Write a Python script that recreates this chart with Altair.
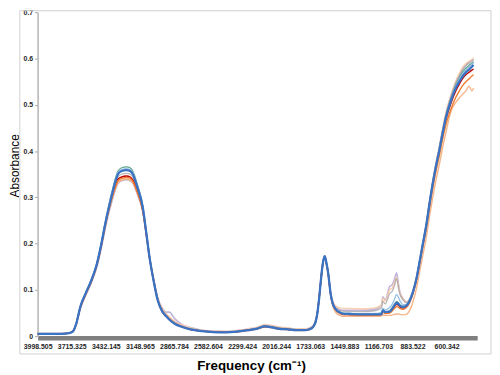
import altair as alt
import pandas as pd

# wavenumber grid (cm-1), descending
FREQ = [3998.5, 3900, 3800, 3750, 3720, 3700, 3680, 3643, 3600, 3550,
        3506, 3470, 3438, 3405, 3375, 3350, 3331, 3300, 3260, 3230,
        3208, 3170, 3124, 3100, 3069, 3035, 3000, 2962, 2930, 2905,
        2860, 2798, 2720, 2634, 2540, 2437, 2340, 2248, 2180, 2108,
        2050, 1990, 1919, 1850, 1780, 1740, 1710, 1690, 1675, 1660,
        1645, 1630, 1613, 1600, 1585, 1564, 1548, 1536, 1510, 1485,
        1468, 1400, 1300, 1200, 1164, 1140, 1131, 1110, 1074, 1050,
        1030, 1016, 1000, 990, 961, 934, 910, 879, 850, 825,
        800, 770, 740, 715, 690, 661, 635, 606, 565, 524,
        490, 469, 440, 414, 390, 376]

X_TICKS = [3998.505, 3715.325, 3432.145, 3148.965, 2865.784, 2582.604, 2299.424,
           2016.244, 1733.063, 1449.883, 1166.703, 883.522, 600.342]
Y_TICKS = [0, 0.1, 0.2, 0.3, 0.4, 0.5, 0.6, 0.7]

LAVENDER = [0.006, 0.006, 0.006, 0.007, 0.009, 0.013, 0.024, 0.061, 0.088, 0.117,
            0.150, 0.190, 0.231, 0.268, 0.297, 0.318, 0.330, 0.336, 0.338, 0.336,
            0.331, 0.307, 0.268, 0.228, 0.171, 0.123, 0.082, 0.060, 0.052, 0.052,
            0.038, 0.025, 0.018, 0.013, 0.011, 0.010, 0.012, 0.015, 0.018, 0.024,
            0.022, 0.019, 0.017, 0.015, 0.015, 0.017, 0.022, 0.032, 0.050, 0.082,
            0.121, 0.156, 0.173, 0.160, 0.139, 0.094, 0.075, 0.068, 0.060, 0.057,
            0.056, 0.056, 0.056, 0.058, 0.062, 0.068, 0.085, 0.078, 0.107, 0.112,
            0.126, 0.137, 0.112, 0.098, 0.081, 0.074, 0.079, 0.099, 0.127, 0.161,
            0.197, 0.240, 0.293, 0.334, 0.370, 0.407, 0.443, 0.480, 0.518, 0.548,
            0.567, 0.577, 0.587, 0.592, 0.596, 0.599]

PEACH = [0.006, 0.006, 0.006, 0.007, 0.009, 0.013, 0.025, 0.062, 0.089, 0.119,
         0.153, 0.194, 0.236, 0.274, 0.304, 0.326, 0.339, 0.344, 0.346, 0.344,
         0.338, 0.313, 0.272, 0.230, 0.172, 0.123, 0.081, 0.058, 0.048, 0.042,
         0.032, 0.024, 0.017, 0.013, 0.011, 0.010, 0.012, 0.016, 0.019, 0.025,
         0.023, 0.020, 0.018, 0.016, 0.016, 0.018, 0.023, 0.033, 0.050, 0.082,
         0.121, 0.155, 0.172, 0.160, 0.139, 0.095, 0.077, 0.070, 0.063, 0.061,
         0.060, 0.060, 0.059, 0.061, 0.064, 0.068, 0.082, 0.076, 0.100, 0.105,
         0.118, 0.128, 0.108, 0.095, 0.080, 0.073, 0.079, 0.099, 0.127, 0.162,
         0.198, 0.241, 0.294, 0.335, 0.371, 0.408, 0.445, 0.482, 0.520, 0.551,
         0.570, 0.580, 0.589, 0.594, 0.598, 0.601]

GREY = [0.005, 0.005, 0.005, 0.006, 0.008, 0.012, 0.024, 0.062, 0.090, 0.120,
        0.154, 0.195, 0.238, 0.276, 0.307, 0.330, 0.344, 0.350, 0.352, 0.350,
        0.344, 0.318, 0.275, 0.231, 0.171, 0.121, 0.079, 0.056, 0.046, 0.040,
        0.030, 0.022, 0.016, 0.012, 0.010, 0.009, 0.011, 0.014, 0.017, 0.023,
        0.021, 0.018, 0.016, 0.014, 0.014, 0.016, 0.021, 0.031, 0.049, 0.081,
        0.121, 0.156, 0.173, 0.160, 0.138, 0.093, 0.074, 0.066, 0.058, 0.055,
        0.054, 0.053, 0.053, 0.055, 0.058, 0.062, 0.075, 0.070, 0.092, 0.098,
        0.112, 0.125, 0.105, 0.092, 0.078, 0.072, 0.078, 0.098, 0.126, 0.160,
        0.196, 0.239, 0.292, 0.333, 0.369, 0.406, 0.442, 0.479, 0.517, 0.547,
        0.565, 0.575, 0.584, 0.590, 0.594, 0.597]

SALMON = [0.005, 0.005, 0.005, 0.006, 0.008, 0.011, 0.023, 0.060, 0.088, 0.118,
          0.152, 0.193, 0.235, 0.273, 0.302, 0.321, 0.332, 0.337, 0.339, 0.337,
          0.332, 0.309, 0.270, 0.230, 0.173, 0.124, 0.082, 0.058, 0.047, 0.040,
          0.030, 0.022, 0.015, 0.011, 0.009, 0.008, 0.009, 0.012, 0.015, 0.020,
          0.018, 0.015, 0.014, 0.012, 0.012, 0.014, 0.019, 0.029, 0.047, 0.079,
          0.118, 0.153, 0.170, 0.157, 0.135, 0.089, 0.068, 0.058, 0.048, 0.045,
          0.043, 0.043, 0.043, 0.043, 0.043, 0.044, 0.046, 0.045, 0.045, 0.046,
          0.047, 0.048, 0.048, 0.047, 0.046, 0.047, 0.054, 0.075, 0.104, 0.138,
          0.172, 0.212, 0.262, 0.300, 0.335, 0.370, 0.405, 0.440, 0.485, 0.505,
          0.516, 0.522, 0.530, 0.540, 0.530, 0.536]

TEAL = [0.005, 0.005, 0.005, 0.006, 0.008, 0.012, 0.025, 0.065, 0.094, 0.124,
        0.159, 0.201, 0.245, 0.285, 0.318, 0.343, 0.357, 0.364, 0.366, 0.364,
        0.357, 0.328, 0.281, 0.235, 0.173, 0.121, 0.078, 0.054, 0.044, 0.037,
        0.028, 0.021, 0.015, 0.011, 0.009, 0.009, 0.010, 0.013, 0.017, 0.022,
        0.020, 0.017, 0.015, 0.013, 0.013, 0.015, 0.020, 0.030, 0.048, 0.080,
        0.120, 0.155, 0.173, 0.160, 0.138, 0.092, 0.072, 0.064, 0.056, 0.052,
        0.050, 0.049, 0.048, 0.048, 0.048, 0.049, 0.057, 0.053, 0.055, 0.062,
        0.070, 0.075, 0.072, 0.068, 0.065, 0.067, 0.076, 0.097, 0.127, 0.162,
        0.198, 0.240, 0.292, 0.333, 0.368, 0.404, 0.440, 0.476, 0.513, 0.542,
        0.560, 0.570, 0.579, 0.585, 0.590, 0.593]

LIGHTBLUE = [0.005, 0.005, 0.005, 0.006, 0.008, 0.012, 0.026, 0.065, 0.093, 0.123,
             0.158, 0.200, 0.243, 0.283, 0.315, 0.340, 0.354, 0.360, 0.362, 0.360,
             0.353, 0.325, 0.279, 0.234, 0.172, 0.121, 0.078, 0.054, 0.044, 0.037,
             0.028, 0.021, 0.015, 0.011, 0.009, 0.009, 0.010, 0.013, 0.017, 0.022,
             0.020, 0.017, 0.015, 0.013, 0.013, 0.015, 0.020, 0.030, 0.048, 0.081,
             0.121, 0.156, 0.174, 0.161, 0.139, 0.093, 0.073, 0.065, 0.056, 0.052,
             0.050, 0.049, 0.048, 0.049, 0.050, 0.052, 0.060, 0.057, 0.062, 0.070,
             0.082, 0.090, 0.084, 0.078, 0.068, 0.068, 0.077, 0.097, 0.126, 0.161,
             0.197, 0.239, 0.291, 0.331, 0.366, 0.402, 0.438, 0.474, 0.511, 0.540,
             0.557, 0.566, 0.575, 0.581, 0.587, 0.590]

RED = [0.005, 0.005, 0.005, 0.006, 0.008, 0.012, 0.025, 0.064, 0.091, 0.121,
       0.155, 0.196, 0.239, 0.277, 0.306, 0.327, 0.339, 0.344, 0.346, 0.344,
       0.338, 0.313, 0.271, 0.229, 0.170, 0.120, 0.077, 0.053, 0.043, 0.036,
       0.027, 0.020, 0.014, 0.011, 0.009, 0.0085, 0.010, 0.013, 0.016, 0.021,
       0.019, 0.016, 0.015, 0.013, 0.013, 0.015, 0.020, 0.030, 0.048, 0.080,
       0.120, 0.155, 0.172, 0.159, 0.137, 0.091, 0.071, 0.063, 0.054, 0.050,
       0.048, 0.047, 0.046, 0.046, 0.046, 0.047, 0.054, 0.050, 0.052, 0.058,
       0.065, 0.069, 0.067, 0.064, 0.061, 0.064, 0.073, 0.094, 0.123, 0.158,
       0.194, 0.236, 0.288, 0.328, 0.362, 0.398, 0.433, 0.468, 0.503, 0.530,
       0.547, 0.556, 0.565, 0.570, 0.575, 0.577]

ORANGE = [0.005, 0.005, 0.005, 0.006, 0.008, 0.012, 0.025, 0.063, 0.091, 0.120,
          0.154, 0.195, 0.237, 0.275, 0.304, 0.324, 0.336, 0.341, 0.343, 0.341,
          0.335, 0.311, 0.270, 0.228, 0.170, 0.120, 0.077, 0.053, 0.043, 0.036,
          0.027, 0.020, 0.014, 0.011, 0.009, 0.0085, 0.010, 0.013, 0.016, 0.021,
          0.019, 0.016, 0.015, 0.013, 0.013, 0.015, 0.020, 0.030, 0.048, 0.080,
          0.119, 0.154, 0.171, 0.158, 0.136, 0.090, 0.070, 0.062, 0.053, 0.049,
          0.047, 0.046, 0.045, 0.045, 0.045, 0.046, 0.052, 0.049, 0.050, 0.055,
          0.061, 0.064, 0.063, 0.060, 0.058, 0.062, 0.071, 0.092, 0.121, 0.155,
          0.190, 0.231, 0.281, 0.320, 0.354, 0.389, 0.423, 0.457, 0.490, 0.516,
          0.532, 0.541, 0.550, 0.556, 0.562, 0.565]

BLUE = [0.005, 0.005, 0.005, 0.006, 0.008, 0.012, 0.025, 0.064, 0.092, 0.122,
        0.156, 0.198, 0.241, 0.280, 0.312, 0.336, 0.350, 0.357, 0.359, 0.357,
        0.350, 0.322, 0.277, 0.232, 0.171, 0.120, 0.077, 0.053, 0.043, 0.036,
        0.027, 0.020, 0.014, 0.011, 0.009, 0.0085, 0.010, 0.013, 0.016, 0.021,
        0.019, 0.016, 0.015, 0.013, 0.013, 0.015, 0.020, 0.030, 0.048, 0.080,
        0.120, 0.155, 0.173, 0.160, 0.138, 0.092, 0.072, 0.064, 0.055, 0.051,
        0.049, 0.048, 0.047, 0.047, 0.047, 0.048, 0.056, 0.052, 0.053, 0.060,
        0.068, 0.072, 0.070, 0.066, 0.063, 0.066, 0.075, 0.096, 0.125, 0.160,
        0.196, 0.238, 0.290, 0.330, 0.365, 0.401, 0.436, 0.472, 0.508, 0.536,
        0.552, 0.561, 0.570, 0.576, 0.582, 0.586]

SERIES = [
    ("Lavender", "#b4a7d6", 1.6, 0.85, LAVENDER),
    ("Peach", "#f8cbad", 1.6, 0.9, PEACH),
    ("Grey", "#a5a5a5", 1.3, 0.8, GREY),
    ("Salmon", "#f4b183", 1.4, 0.95, SALMON),
    ("Teal", "#4f9a86", 1.3, 0.9, TEAL),
    ("LightBlue", "#9dc3e6", 1.4, 1.0, LIGHTBLUE),
    ("Red", "#c00000", 1.4, 1.0, RED),
    ("Orange", "#ed7d31", 1.4, 1.0, ORANGE),
    ("Blue", "#3a72c4", 2.3, 1.0, BLUE),
]

x_scale = alt.Scale(domain=[346, 3998.505], reverse=True, nice=False, zero=False)
y_scale = alt.Scale(domain=[0, 0.7], nice=False, zero=False)

x_axis = alt.Axis(
    values=X_TICKS, format=".3f", labelFlush=False, labelOverlap=False,
    ticks=False, grid=False, domainColor="#7f7f7f", domainWidth=4.5, offset=1.5,
    labelFont="Liberation Sans", labelFontWeight="bold", labelFontSize=7,
    labelColor="#262626", labelPadding=5,
    title="Frequency (cm⁻¹)", titleFont="Liberation Sans", titleFontSize=13.5,
    titleFontWeight="bold", titleColor="#000000", titleX=216, titleY=32,
    titleAlign="center", titleBaseline="alphabetic",
)
y_axis = alt.Axis(
    values=Y_TICKS, labelExpr="datum.value == 0 ? '0' : format(datum.value, '.1f')",
    grid=False, domainColor="#c0c0c0", domainWidth=1.8, tickColor="#a0a0a0",
    tickSize=3, labelPadding=2, labelFont="Liberation Sans", labelFontWeight="bold",
    labelFontSize=7, labelColor="#262626",
    title="Absorbance", titleFont="Liberation Sans", titleFontSize=12,
    titleFontWeight="normal", titleColor="#000000", titleAngle=270,
    titleX=-19.5, titleY=155, titleAlign="center", titleBaseline="alphabetic",
)

frame = alt.Chart(pd.DataFrame({"k": [0]})).mark_rect(
    fillOpacity=0, stroke="#d0d0d0", strokeWidth=1
).encode(x=alt.value(-18), x2=alt.value(459), y=alt.value(-1.5), y2=alt.value(346))

layers = [frame]
for name, color, width, opacity, vals in SERIES:
    df = pd.DataFrame({"freq": FREQ, "absorbance": vals, "series": name})
    layers.append(
        alt.Chart(df).mark_line(color=color, strokeWidth=width, opacity=opacity,
                                interpolate="monotone").encode(
            x=alt.X("freq:Q", scale=x_scale, axis=x_axis),
            y=alt.Y("absorbance:Q", scale=y_scale, axis=y_axis),
        )
    )

chart = alt.layer(*layers).properties(
    width=445, height=328,
    autosize=alt.AutoSizeParams(type="none"),
    padding={"left": 30, "top": 2, "right": 15, "bottom": 37},
    background="white",
).configure_view(stroke=None)

chart.save("out.html", embed_options={"renderer": "svg", "actions": False})
